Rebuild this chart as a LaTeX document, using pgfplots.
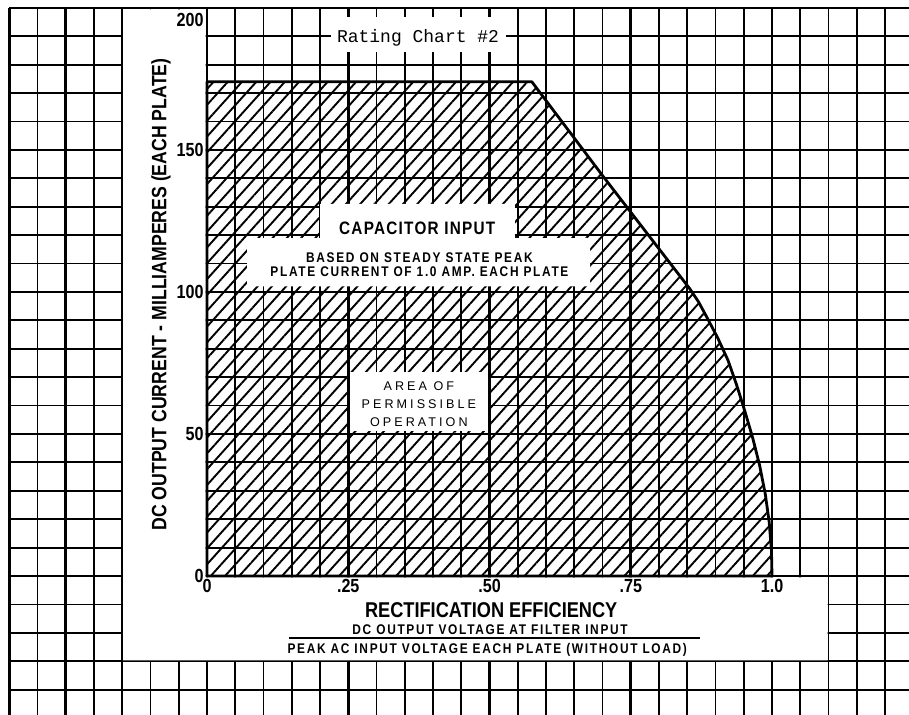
\documentclass[border=0pt]{standalone}
\usepackage{pgfplots}
\pgfplotsset{compat=1.18}
\usetikzlibrary{patterns.meta}
\usepackage{fontspec}
\setmainfont{Liberation Sans}
\newfontfamily\cond[FakeStretch=0.85]{Liberation Sans}
\newfontfamily\typew{Liberation Mono}

\begin{document}
\begin{tikzpicture}
\useasboundingbox (0pt,0pt) rectangle (454.5pt,357.5pt);

% graph paper
\begin{axis}[
    at={(4.625pt,0pt)}, anchor=south west,
    width=449.88pt, height=353.5pt, scale only axis,
    xmin=-0.35, xmax=1.2425, ymin=-48.94, ymax=200,
    axis line style={draw=none}, ticks=none,
    xtick={-0.35,-0.30,...,1.21}, ytick={-40,-30,...,200},
    grid=major, major grid style={black, line width=0.9pt},
    extra x ticks={-0.35,-0.25,0,0.25,0.5,0.75,1},
    extra y ticks={0,50,100,150,200},
    extra tick style={grid=major, major grid style={black, line width=1.4pt}},
]
% blank strip for the labels
\addplot[fill=white, draw=none] coordinates {
    (-0.1484,-29.68) (1.0984,-29.68) (1.0984,-0.5) (-0.0025,-0.5)
    (-0.0025,199.5) (-0.1484,199.5)} -- cycle;
\end{axis}

% rating chart
\begin{axis}[
    at={(103.5pt,69.5pt)}, anchor=south west,
    width=282.5pt, height=284pt, scale only axis,
    xmin=0, xmax=1, ymin=0, ymax=200,
    axis line style={draw=none}, tick style={draw=none},
    clip=false,
    xtick={0,0.25,0.5,0.75,1}, xticklabels={0,.25,.50,.75,1.0},
    ytick={0,50,100,150}, yticklabels={0,50,100,150},
    extra y ticks={200}, extra y tick labels={200},
    extra y tick style={yticklabel style={anchor=north east, yshift=-1pt}},
    tick label style={font=\cond\bfseries\fontsize{9.5}{9.5}\selectfont},
    xticklabel style={inner sep=1.5pt},
    yticklabel style={inner sep=1.5pt},
]
\addplot[draw=black, line width=1.4pt, line join=round,
    pattern={Lines[angle=48, distance=5.3pt, line width=0.95pt]}]
coordinates {
    (0,0) (0,174) (0.575,174) (0.70,141) (0.855,101) (0.870,96.5)
    (0.885,91) (0.904,83.8) (0.922,76) (0.937,67.5) (0.952,58)
    (0.966,48.5) (0.978,39) (0.988,29) (0.995,19) (0.999,9) (1.0,0)
} -- cycle;

% blanks cut out for the notes
\addplot[fill=white, draw=none] coordinates {
    (0.200,131) (0.545,131) (0.545,119) (0.678,119) (0.678,102)
    (0.071,102) (0.071,119) (0.200,119)} -- cycle;
\addplot[fill=white, draw=none] coordinates {
    (0.253,51) (0.497,51) (0.497,72) (0.253,72)} -- cycle;
\addplot[fill=white, draw=none] coordinates {
    (0.219,184.5) (0.530,184.5) (0.530,196.8) (0.219,196.8)} -- cycle;

\node[font=\typew\fontsize{9}{9}\selectfont] at (axis cs:0.3735,189.4) {Rating Chart \#2};
\node[font=\cond\bfseries\fontsize{9}{9}\selectfont\addfontfeatures{LetterSpace=7}]
    at (axis cs:0.372,122.6) {CAPACITOR INPUT};
\node[font=\cond\bfseries\fontsize{7}{7}\selectfont\addfontfeatures{LetterSpace=12},
    align=center] at (axis cs:0.376,109.7)
    {BASED ON STEADY STATE PEAK\\PLATE CURRENT OF 1.0 AMP. EACH PLATE};
\node[font=\fontsize{6.3}{9}\selectfont\addfontfeatures{LetterSpace=24},
    align=center] at (axis cs:0.375,60.4)
    {AREA OF\\PERMISSIBLE\\OPERATION};

% axis titles
\node[rotate=90, font=\cond\bfseries\fontsize{10.4}{10.4}\selectfont]
    at (axis cs:-0.0814,99.1) {DC OUTPUT CURRENT - MILLIAMPERES (EACH PLATE)};
\node[font=\cond\bfseries\fontsize{10.7}{10.7}\selectfont]
    at (axis cs:0.503,-12) {RECTIFICATION EFFICIENCY};
\node[font=\cond\bfseries\fontsize{7}{7}\selectfont\addfontfeatures{LetterSpace=12}]
    at (axis cs:0.501,-19) {DC OUTPUT VOLTAGE AT FILTER INPUT};
\draw[line width=1pt] (axis cs:0.145,-21.8) -- (axis cs:0.8726,-21.8);
\node[font=\cond\bfseries\fontsize{7}{7}\selectfont\addfontfeatures{LetterSpace=12}]
    at (axis cs:0.496,-26) {PEAK AC INPUT VOLTAGE EACH PLATE (WITHOUT LOAD)};
\end{axis}
\end{tikzpicture}
\end{document}
